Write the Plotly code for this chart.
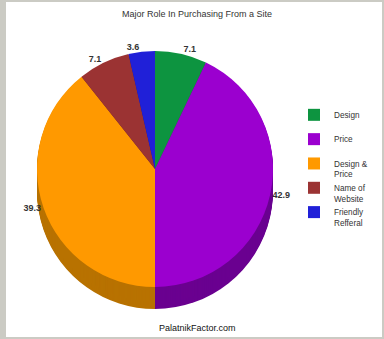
import plotly.graph_objects as go

# ---- data ----
categories = ["Design<br> ", "Price<br> ", "Design &<br>Price", "Name of<br>Website", "Friendly<br>Refferal"]
values = [7.1, 42.9, 39.3, 7.1, 3.6]
top_colors = ["#0d9440", "#9b00cf", "#ff9900", "#9b3333", "#2020d8"]
side_colors = ["#086a2e", "#6a0090", "#b87200", "#6e2222", "#14149a"]
title_text = "Major Role In Purchasing From a Site"
footer_text = "PalatnikFactor.com"

W, H = 384, 339
cx, cy, D = 155, 169, 236
depth = 22
FONT = "Liberation Sans, Arial, sans-serif"

def dom(offset):
    x0 = (cx - D / 2) / W
    x1 = (cx + D / 2) / W
    y0 = (H - (cy + D / 2) - offset) / H
    y1 = (H - (cy - D / 2) - offset) / H
    return dict(x=[x0, x1], y=[y0, y1])

fig = go.Figure()
# side (3D depth) layers
for k in range(depth, 0, -1):
    fig.add_trace(go.Pie(
        values=values, labels=categories, sort=False, direction="clockwise",
        marker=dict(colors=side_colors, line=dict(width=0)),
        textinfo="none", hoverinfo="skip", showlegend=False, automargin=False,
        domain=dom(k),
    ))
# top face
fig.add_trace(go.Pie(
    values=values, labels=categories, sort=False, direction="clockwise",
    marker=dict(colors=top_colors, line=dict(width=0)),
    textinfo="value", textposition="outside", automargin=False,
    outsidetextfont=dict(family=FONT, size=9, color="#333333", weight="bold"),
    domain=dom(0), showlegend=True,
))

fig.update_layout(
    width=W, height=H,
    margin=dict(l=0, r=0, t=0, b=0, autoexpand=False),
    paper_bgcolor="#cbcbc4",
    plot_bgcolor="white",
    title=dict(text=title_text, x=197 / W, xanchor="center", y=1 - 14 / H, yanchor="middle",
               font=dict(family=FONT, size=9, color="#333333")),
    legend=dict(x=294 / W, y=1 - 103 / H, xanchor="left", yanchor="top",
                font=dict(family=FONT, size=8.2, color="#333333"),
                bgcolor="rgba(0,0,0,0)", valign="top", tracegroupgap=0),
    shapes=[dict(type="rect", xref="paper", yref="paper",
                 x0=6 / W, x1=382 / W, y0=2 / H, y1=1 - 2 / H,
                 fillcolor="white", line=dict(width=0), layer="below")],
    annotations=[dict(text=footer_text, xref="paper", yref="paper",
                      x=197 / W, y=1 - 328 / H, xanchor="center", yanchor="middle",
                      showarrow=False, font=dict(family=FONT, size=9, color="#111111"))],
)

fig.write_html("out.html")
